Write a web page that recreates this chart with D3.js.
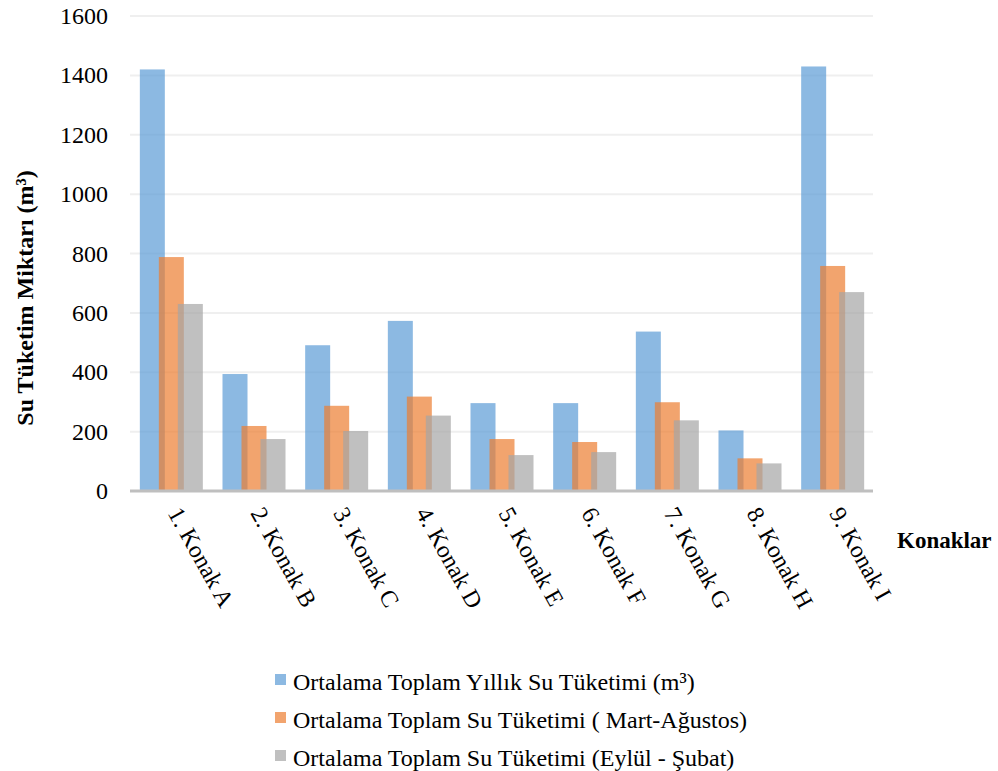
<!DOCTYPE html>
<html>
<head>
<meta charset="utf-8">
<script src="https://cdn.jsdelivr.net/npm/d3@7"></script>
<style>
  body { margin: 0; background: #fff; }
  text { font-family: "Liberation Serif", "Times New Roman", serif; fill: #000; }
</style>
</head>
<body>
<div id="chart"></div>
<script>
// categories and series
var konaklar = ["1. Konak A", "2. Konak B", "3. Konak C", "4. Konak D", "5. Konak E",
                "6. Konak F", "7. Konak G", "8. Konak H", "9. Konak I"];
var yillik   = [1420, 394, 491, 573, 296, 296, 537, 204, 1430];
var martAgu  = [788, 219, 287, 318, 175, 165, 299, 110, 758];
var eylulSub = [630, 175, 202, 254, 121, 131, 238, 93, 670];
var seriesNames = ["Ortalama Toplam Yıllık Su Tüketimi (m³)",
                   "Ortalama Toplam Su Tüketimi ( Mart-Ağustos)",
                   "Ortalama Toplam Su Tüketimi (Eylül - Şubat)"];
var yTicks = [0, 200, 400, 600, 800, 1000, 1200, 1400, 1600];

var W = 998, H = 771;
var svg = d3.select("#chart").append("svg")
  .attr("width", W).attr("height", H);

var x = d3.scaleBand().domain(konaklar).range([130, 874]);
var y = d3.scaleLinear().domain([0, 1600]).range([491, 16]);
var color = d3.scaleOrdinal()
  .domain(seriesNames)
  .range(["#5B9BD5", "#ED7D31", "#A5A5A5"]);

// gridlines
svg.append("g").selectAll("line")
  .data(yTicks.slice(1))
  .enter().append("line")
    .attr("x1", 130).attr("x2", 873)
    .attr("y1", function(d){ return y(d) }).attr("y2", function(d){ return y(d) })
    .attr("stroke", "#efefef").attr("stroke-width", 2);

// y tick labels
svg.append("g").selectAll("text")
  .data(yTicks)
  .enter().append("text")
    .attr("x", 108)
    .attr("y", function(d){ return y(d) + 8 })
    .attr("text-anchor", "end")
    .style("font-size", "24px")
    .text(function(d){ return d });

// bars: three overlapping series per group
var barW = 25, step = 19;
var allSeries = [yillik, martAgu, eylulSub];
allSeries.forEach(function(vals, si){
  svg.append("g").selectAll("rect")
    .data(vals)
    .enter().append("rect")
      .attr("x", function(d, i){ return x(konaklar[i]) + x.bandwidth()/2 - (barW + 2*step)/2 + si*step })
      .attr("y", function(d){ return y(d) })
      .attr("width", barW)
      .attr("height", function(d){ return y(0) - y(d) })
      .attr("fill", color(seriesNames[si]))
      .attr("fill-opacity", 0.7);
});

// zero axis line
svg.append("line")
  .attr("x1", 130).attr("x2", 873)
  .attr("y1", y(0)).attr("y2", y(0))
  .attr("stroke", "#bfbfbf").attr("stroke-width", 3);

// x labels
svg.append("g").selectAll("text")
  .data(konaklar)
  .enter().append("text")
    .attr("transform", function(d){ return "translate(" + (x(d) + x.bandwidth()/2 - 4) + ",513) rotate(61)" })
    .attr("text-anchor", "start")
    .style("font-size", "24px")
    .text(function(d){ return d });

// axis titles
svg.append("text")
  .attr("transform", "translate(33,298) rotate(-90)")
  .attr("text-anchor", "middle")
  .style("font-size", "24px")
  .style("font-weight", "bold")
  .text("Su Tüketim Miktarı (m³)");

svg.append("text")
  .attr("x", 897).attr("y", 548)
  .style("font-size", "23px")
  .style("font-weight", "bold")
  .text("Konaklar");

// legend
var legend = svg.append("g").selectAll("g")
  .data(seriesNames)
  .enter().append("g")
    .attr("transform", function(d, i){ return "translate(275," + (674 + i*38) + ")" });
legend.append("rect")
  .attr("width", 11).attr("height", 11)
  .attr("fill", function(d){ return color(d) })
  .attr("fill-opacity", 0.7);
legend.append("text")
  .attr("x", 18).attr("y", 16)
  .style("font-size", "24px")
  .text(function(d){ return d });
</script>
</body>
</html>
